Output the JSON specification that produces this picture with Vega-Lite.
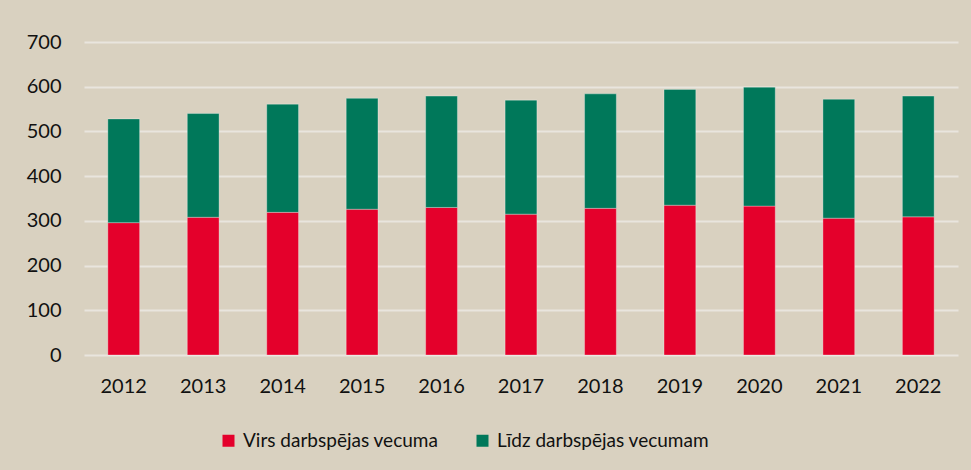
{
  "$schema": "https://vega.github.io/schema/vega-lite/v6.json",
  "width": 874,
  "height": 313,
  "autosize": {"type": "none"},
  "padding": {"left": 84, "top": 42, "right": 13, "bottom": 115},
  "background": "#D9D1C0",
  "data": {
    "values": [
      {"year": "2012", "series": "Virs darbspējas vecuma", "o": 1, "value": 296},
      {"year": "2012", "series": "Līdz darbspējas vecumam", "o": 2, "value": 232},
      {"year": "2013", "series": "Virs darbspējas vecuma", "o": 1, "value": 308},
      {"year": "2013", "series": "Līdz darbspējas vecumam", "o": 2, "value": 232},
      {"year": "2014", "series": "Virs darbspējas vecuma", "o": 1, "value": 319},
      {"year": "2014", "series": "Līdz darbspējas vecumam", "o": 2, "value": 242},
      {"year": "2015", "series": "Virs darbspējas vecuma", "o": 1, "value": 326},
      {"year": "2015", "series": "Līdz darbspējas vecumam", "o": 2, "value": 248},
      {"year": "2016", "series": "Virs darbspējas vecuma", "o": 1, "value": 330},
      {"year": "2016", "series": "Līdz darbspējas vecumam", "o": 2, "value": 249},
      {"year": "2017", "series": "Virs darbspējas vecuma", "o": 1, "value": 315},
      {"year": "2017", "series": "Līdz darbspējas vecumam", "o": 2, "value": 255},
      {"year": "2018", "series": "Virs darbspējas vecuma", "o": 1, "value": 328},
      {"year": "2018", "series": "Līdz darbspējas vecumam", "o": 2, "value": 256},
      {"year": "2019", "series": "Virs darbspējas vecuma", "o": 1, "value": 335},
      {"year": "2019", "series": "Līdz darbspējas vecumam", "o": 2, "value": 259},
      {"year": "2020", "series": "Virs darbspējas vecuma", "o": 1, "value": 333},
      {"year": "2020", "series": "Līdz darbspējas vecumam", "o": 2, "value": 266},
      {"year": "2021", "series": "Virs darbspējas vecuma", "o": 1, "value": 306},
      {"year": "2021", "series": "Līdz darbspējas vecumam", "o": 2, "value": 266},
      {"year": "2022", "series": "Virs darbspējas vecuma", "o": 1, "value": 309},
      {"year": "2022", "series": "Līdz darbspējas vecumam", "o": 2, "value": 270}
    ]
  },
  "mark": {"type": "bar", "stroke": "#ffffff", "strokeOpacity": 0.3, "strokeWidth": 1},
  "encoding": {
    "x": {
      "field": "year",
      "type": "ordinal",
      "scale": {"paddingInner": 0.6, "paddingOuter": 0.3},
      "axis": {
        "title": null,
        "labelAngle": 0,
        "domain": false,
        "ticks": false,
        "labelPadding": 21,
        "labelFont": "Lato",
        "labelFontSize": 20,
        "labelColor": "#111111"
      }
    },
    "y": {
      "field": "value",
      "type": "quantitative",
      "aggregate": "sum",
      "stack": "zero",
      "scale": {"domain": [0, 700], "nice": false},
      "axis": {
        "title": null,
        "values": [0, 100, 200, 300, 400, 500, 600, 700],
        "domain": false,
        "ticks": false,
        "labelPadding": 23,
        "labelFont": "Lato",
        "labelFontSize": 20,
        "labelColor": "#111111",
        "gridColor": "#E9E5DE",
        "gridWidth": 2
      }
    },
    "color": {
      "field": "series",
      "type": "nominal",
      "scale": {
        "domain": ["Virs darbspējas vecuma", "Līdz darbspējas vecumam"],
        "range": ["#E4002B", "#00785A"]
      },
      "legend": {
        "title": null,
        "orient": "none",
        "direction": "horizontal",
        "legendX": 135,
        "legendY": 389,
        "symbolType": "square",
        "symbolSize": 144,
        "symbolStrokeWidth": 0,
        "labelFont": "Lato",
        "labelFontSize": 19,
        "labelColor": "#111111",
        "labelLimit": 0,
        "labelOffset": 5,
        "columnPadding": 34
      }
    },
    "order": {"field": "o", "type": "quantitative"}
  },
  "config": {"view": {"stroke": null}}
}
